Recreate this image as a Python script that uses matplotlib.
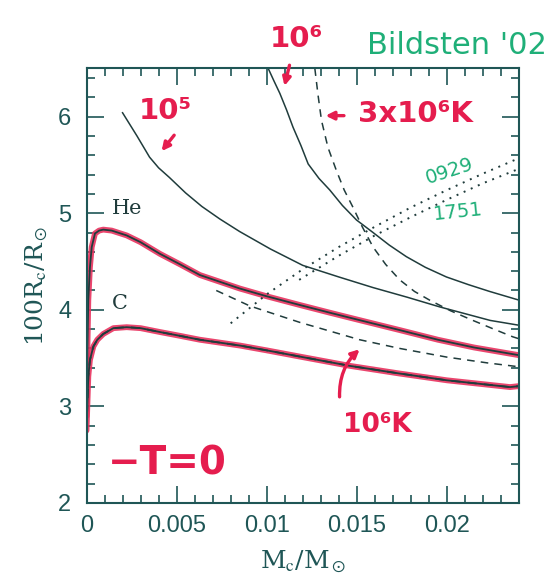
"""Core radius vs core mass for He and C white-dwarf cores (scan of Bildsten '02 figure).

Traced curves: T=0 He and C sequences, isotherms at 1e5, 1e6 and 3e6 K,
and two Roche-lobe loci (0929, 1751). Hand-drawn notes are redrawn as text.
"""
import matplotlib
matplotlib.use("Agg")
import matplotlib.pyplot as plt
from matplotlib.ticker import MultipleLocator

# T = 0 helium sequence
he_t0_m = [0.0, 0.00005, 0.0001, 0.00019, 0.00029, 0.00047, 0.0007, 0.00093, 0.0014,
           0.00223, 0.003, 0.00407, 0.0052, 0.00629, 0.0074, 0.00851, 0.010, 0.01183,
           0.0135, 0.015, 0.01738, 0.0195, 0.0215, 0.024]
he_t0_r = [2.9, 3.6, 4.1, 4.44, 4.65, 4.79, 4.82, 4.83, 4.82,
           4.77, 4.70, 4.58, 4.47, 4.36, 4.29, 4.22, 4.14, 4.05,
           3.97, 3.90, 3.79, 3.69, 3.61, 3.53]

# T = 0 carbon sequence (10^6 K carbon curve lies on top of it)
c_t0_m = [0.0, 0.0001, 0.00019, 0.00038, 0.0006, 0.00093, 0.00149, 0.00223, 0.003,
          0.00407, 0.0052, 0.00629, 0.0074, 0.00851, 0.010, 0.012, 0.0146, 0.01738,
          0.020, 0.022, 0.0235, 0.024]
c_t0_r = [2.75, 3.31, 3.48, 3.62, 3.69, 3.75, 3.81, 3.82, 3.81,
          3.77, 3.73, 3.69, 3.66, 3.63, 3.58, 3.51, 3.42, 3.34,
          3.27, 3.23, 3.20, 3.21]

# helium, T = 10^6 K (dashed)
he_6_m = [0.0072, 0.00906, 0.01183, 0.01516, 0.01738, 0.020, 0.02225, 0.024]
he_6_r = [4.20, 4.04, 3.87, 3.69, 3.60, 3.51, 3.45, 3.41]

# helium, T = 10^5 K (solid)
he_5_m = [0.002, 0.0028, 0.0035, 0.004, 0.0046, 0.0055, 0.0064, 0.0074, 0.0085,
          0.0102, 0.012, 0.014, 0.0159, 0.0178, 0.0196, 0.021, 0.0224, 0.024]
he_5_r = [6.04, 5.80, 5.58, 5.47, 5.37, 5.21, 5.07, 4.94, 4.81,
          4.63, 4.46, 4.34, 4.23, 4.13, 4.03, 3.96, 3.89, 3.84]

# helium, T = 10^6 K upper solid branch
he_6b_m = [0.01008, 0.0104, 0.01073, 0.0111, 0.01146, 0.0119, 0.0123, 0.0129, 0.0135,
           0.0142, 0.01498, 0.0159, 0.0168, 0.01775, 0.0188, 0.01997, 0.0212, 0.02237,
           0.024]
he_6b_r = [6.50, 6.37, 6.24, 6.07, 5.89, 5.70, 5.51, 5.36, 5.24,
           5.08, 4.93, 4.80, 4.67, 4.55, 4.44, 4.34, 4.26, 4.19,
           4.10]

# helium, T = 3x10^6 K (dashed)
he_3e6_m = [0.01267, 0.01285, 0.01304, 0.0134, 0.01387, 0.0143, 0.01479, 0.0153,
            0.0159, 0.0166, 0.01738, 0.0182, 0.01904, 0.0202, 0.02144, 0.0226,
            0.02366, 0.024]
he_3e6_r = [6.50, 6.22, 5.96, 5.68, 5.44, 5.24, 5.06, 4.86,
            4.65, 4.47, 4.31, 4.19, 4.10, 3.99, 3.89, 3.80,
            3.72, 3.70]

# Roche-lobe loci (dotted)
rl_0929_m = [0.008, 0.010, 0.012, 0.014, 0.016, 0.018, 0.020, 0.022, 0.024]
rl_0929_r = [3.86, 4.16, 4.42, 4.65, 4.86, 5.06, 5.24, 5.41, 5.57]
rl_1751_m = [0.0118, 0.014, 0.016, 0.018, 0.020, 0.022, 0.024]
rl_1751_r = [4.31, 4.56, 4.77, 4.96, 5.14, 5.31, 5.46]

INK = "#1f5656"
LINE = "#203c3c"
RED = "#e51d4e"
HIGHLIGHT = "#e8325e"
GREEN = "#1faf78"

plt.rcParams["mathtext.fontset"] = "stix"

fig = plt.figure(figsize=(5.57, 5.78), dpi=100)
ax = fig.add_axes([0.1553, 0.1298, 0.7765, 0.752])

# red highlighter over the T=0 curves
ax.plot(he_t0_m, he_t0_r, color=HIGHLIGHT, lw=4.2, alpha=0.9, solid_capstyle="round")
ax.plot(c_t0_m, c_t0_r, color=HIGHLIGHT, lw=4.2, alpha=0.9, solid_capstyle="round")
ax.plot(he_t0_m, he_t0_r, color=LINE, lw=1.3)
ax.plot(c_t0_m, c_t0_r, color=LINE, lw=1.3)
ax.plot(c_t0_m, c_t0_r, color=LINE, lw=1.3, ls=(0, (5, 4)))

ax.plot(he_6_m, he_6_r, color=LINE, lw=1.1, ls=(0, (5, 4)))
ax.plot(he_5_m, he_5_r, color=LINE, lw=1.1)
ax.plot(he_6b_m, he_6b_r, color=LINE, lw=1.1)
ax.plot(he_3e6_m, he_3e6_r, color=LINE, lw=1.1, ls=(0, (5, 4)))
ax.plot(rl_0929_m, rl_0929_r, color=LINE, lw=1.4, ls=(0, (1, 3)))
ax.plot(rl_1751_m, rl_1751_r, color=LINE, lw=1.4, ls=(0, (1, 3)))

ax.set_xlim(0, 0.024)
ax.set_ylim(2, 6.5)
ax.xaxis.set_major_locator(MultipleLocator(0.005))
ax.xaxis.set_minor_locator(MultipleLocator(0.001))
ax.yaxis.set_major_locator(MultipleLocator(1))
ax.yaxis.set_minor_locator(MultipleLocator(0.2))
ax.set_xticks([0, 0.005, 0.01, 0.015, 0.02])
ax.set_xticklabels(["0", "0.005", "0.01", "0.015", "0.02"])
ax.tick_params(which="both", direction="in", top=True, right=True,
               colors=INK, width=1.2, labelsize=17)
ax.tick_params(which="major", length=12)
ax.tick_params(which="minor", length=6)
ax.tick_params(axis="x", pad=9)
ax.tick_params(axis="y", pad=11)
for lab in ax.get_xticklabels() + ax.get_yticklabels():
    lab.set_fontfamily("Liberation Sans")
for sp in ax.spines.values():
    sp.set_color(INK)
    sp.set_linewidth(1.5)

ax.set_xlabel(r"M$_{\rm c}$/M$_\odot$", fontsize=18, family="DejaVu Serif",
              color=INK, labelpad=8)
ax.set_ylabel(r"100R$_{\rm c}$/R$_\odot$", fontsize=18, family="DejaVu Serif",
              color=INK, labelpad=6)

# printed labels
ax.text(0.00223, 5.05, "He", fontsize=15, family="DejaVu Serif", color=LINE,
        ha="center", va="center")
ax.text(0.00186, 4.07, "C", fontsize=15, family="DejaVu Serif", color=LINE,
        ha="center", va="center")

# hand-written notes
hand = dict(color=RED, family="DejaVu Sans", ha="center", va="center",
            fontweight="bold", clip_on=False)
arrow = dict(arrowstyle="-|>", color=RED, lw=2.4, mutation_scale=12)
ax.text(0.00435, 6.06, "10\u2075", fontsize=21, **hand)
ax.annotate("", xy=(0.00407, 5.62), xytext=(0.00496, 5.83), arrowprops=arrow)
ax.text(0.01167, 6.80, "10\u2076", fontsize=21, **hand)
ax.annotate("", xy=(0.01095, 6.29), xytext=(0.0113, 6.56), annotation_clip=False,
            arrowprops=arrow)
ax.annotate("", xy=(0.01311, 6.01), xytext=(0.01444, 6.01), arrowprops=arrow)
ax.text(0.01828, 6.03, "3x10\u2076K", fontsize=21, **hand)
ax.text(0.01616, 2.81, "10\u2076K", fontsize=19, **hand)
ax.annotate("", xy=(0.01527, 3.61), xytext=(0.01405, 3.07),
            arrowprops=dict(arrow, connectionstyle="arc3,rad=-0.25"))
ax.text(0.00446, 2.41, "\u2212T=0", fontsize=28, **hand)

green = dict(color=GREEN, family="DejaVu Sans", ha="center", va="center", clip_on=False)
ax.text(0.02054, 6.74, "Bildsten '02", fontsize=22, **green)
ax.text(0.02015, 5.44, "0929", fontsize=14, rotation=18, **green)
ax.text(0.02059, 5.01, "1751", fontsize=14, rotation=6, **green)

fig.savefig("out.png", dpi=100)
